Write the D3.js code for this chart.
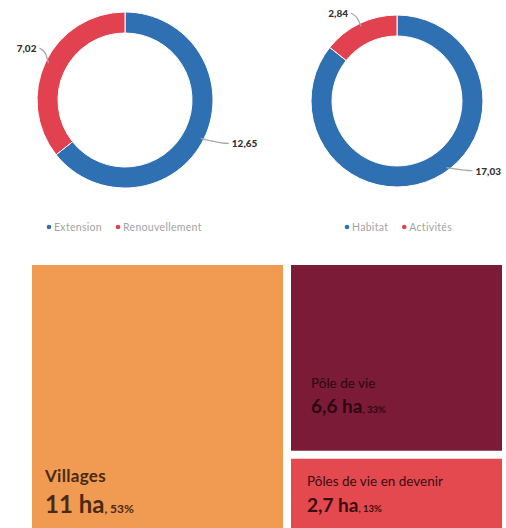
<!DOCTYPE html>
<html>
<head>
<meta charset="utf-8">
<script src="https://cdn.jsdelivr.net/npm/d3@7"></script>
<style>
  body { margin: 0; background: #fff; }
  svg { display: block; font-family: Lato, "Open Sans", sans-serif; }
</style>
</head>
<body>
<svg id="chart" width="506" height="528"></svg>
<script>
// donut 1 : origine du foncier
var typeLabels = ["Extension", "Renouvellement"];
var typeValues = [12.65, 7.02];
// donut 2 : destination
var destLabels = ["Habitat", "Activités"];
var destValues = [17.03, 2.84];
// treemap : armature
var poleNames = ["Villages", "Pôle de vie", "Pôles de vie en devenir"];
var poleHa = [11, 6.6, 2.7];
var poleHaText = ["11 ha", "6,6 ha", "2,7 ha"];
var polePct = ["53%", "33%", "13%"];

var blue = "#2f70b2", red = "#e2414f";
var poleColors = ["#f19a52", "#7b1b37", "#e4494f"];

var svg = d3.select("#chart");
var fmt = function(v){ return v.toFixed(2).replace(".", ","); };

function donut(cfg){
    var g = svg.append("g").attr("transform", "translate(" + cfg.cx + "," + cfg.cy + ")");
    var pie = d3.pie().sort(null).value(function(d){ return d; });
    var arcs = pie(cfg.values);
    var arc = d3.arc().innerRadius(cfg.r - 21).outerRadius(cfg.r);

    g.selectAll("path.slice").data(arcs).enter().append("path")
        .attr("class", "slice")
        .attr("d", arc)
        .attr("fill", function(d, i){ return cfg.colors[i]; })
        .attr("stroke", "#fff").attr("stroke-width", 1);

    // étiquettes + traits de rappel
    arcs.forEach(function(d, i){
        var a = (d.startAngle + d.endAngle) / 2 + cfg.nudge[i];
        var p0 = [Math.sin(a) * (cfg.r - 3), -Math.cos(a) * (cfg.r - 3)];
        var side = Math.sin(a) < 0 ? -1 : 1;
        var p1 = [p0[0] + side * cfg.lead[i][0], p0[1] + cfg.lead[i][1]];
        var p2 = [p1[0] + side * 4, p1[1]];
        g.append("path")
            .attr("d", d3.line().curve(d3.curveBasis)([p0, [p1[0] - side * 2, p1[1] + (p0[1] > p1[1] ? 3 : 0)], p2]))
            .attr("fill", "none").attr("stroke", "#a9a9a9").attr("stroke-width", 1.3);
        g.append("text")
            .attr("x", p2[0] + side * 3).attr("y", p2[1] + 4)
            .attr("text-anchor", side < 0 ? "end" : "start")
            .attr("font-size", 10).attr("font-weight", 900).attr("fill", "#333")
            .text(fmt(cfg.values[i]));
    });

    // légende
    var lg = svg.append("g").attr("transform", "translate(" + cfg.legendX + ",227)");
    var x = 0;
    cfg.labels.forEach(function(l, i){
        lg.append("circle").attr("cx", x + 2).attr("cy", 0).attr("r", 2.3).attr("fill", cfg.colors[i]);
        var t = lg.append("text").attr("x", x + 7).attr("y", 3.5)
            .attr("font-size", 10.5).attr("letter-spacing", 0.3).attr("fill", "#a3a3a3").text(l);
        x += t.node().getComputedTextLength() + 21;
    });
}

donut({cx: 125, cy: 100, r: 88, values: typeValues, labels: typeLabels, colors: [blue, red],
       nudge: [0.02, 0], lead: [[24, 5], [5, -15]], legendX: 47});
donut({cx: 397, cy: 101, r: 86, values: destValues, labels: destLabels, colors: [blue, red],
       nudge: [-0.19, 0], lead: [[22, 3], [6, -13]], legendX: 345});

// treemap
var root = d3.hierarchy({children: poleNames.map(function(n, i){ return {name: n, value: poleHa[i], i: i}; })})
    .sum(function(d){ return d.value || 0; });
d3.treemap().size([470, 265]).paddingInner(8).tile(d3.treemapSquarify)(root);

var tm = svg.append("g").attr("transform", "translate(32,265)");
var cell = tm.selectAll("g").data(root.leaves()).enter().append("g")
    .attr("transform", function(d){ return "translate(" + d.x0 + "," + d.y0 + ")"; });

cell.append("rect")
    .attr("width", function(d){ return d.x1 - d.x0; })
    .attr("height", function(d){ return d.y1 - d.y0; })
    .attr("fill", function(d){ return poleColors[d.data.i]; });

var sizes = [{name: 17, val: 24, pct: 12, up: 31}, {name: 13.5, val: 19, pct: 9.5, up: 25},
             {name: 13.5, val: 19, pct: 9.5, up: 26}];
var textCol = ["#4a2a14", "#2c0811", "#3a0d10"];
cell.each(function(d){
    var i = d.data.i, c = d3.select(this);
    var base = i == 0 ? 248 : (i == 1 ? 148 : 53);
    var dx = i == 0 ? 13 : (i == 1 ? 20 : 16);
    c.append("text").attr("x", dx).attr("y", base - sizes[i].up)
        .attr("font-size", sizes[i].name).attr("font-weight", i == 0 ? 700 : 400)
        .attr("letter-spacing", i == 0 ? 0.3 : 0)
        .attr("fill", textCol[i]).text(d.data.name);
    var t = c.append("text").attr("x", dx).attr("y", base).attr("fill", textCol[i]);
    t.append("tspan").attr("font-size", sizes[i].val).attr("font-weight", 700).text(poleHaText[i]);
    t.append("tspan").attr("font-size", sizes[i].pct).attr("font-weight", 700).text(", " + polePct[i]);
});
</script>
</body>
</html>
